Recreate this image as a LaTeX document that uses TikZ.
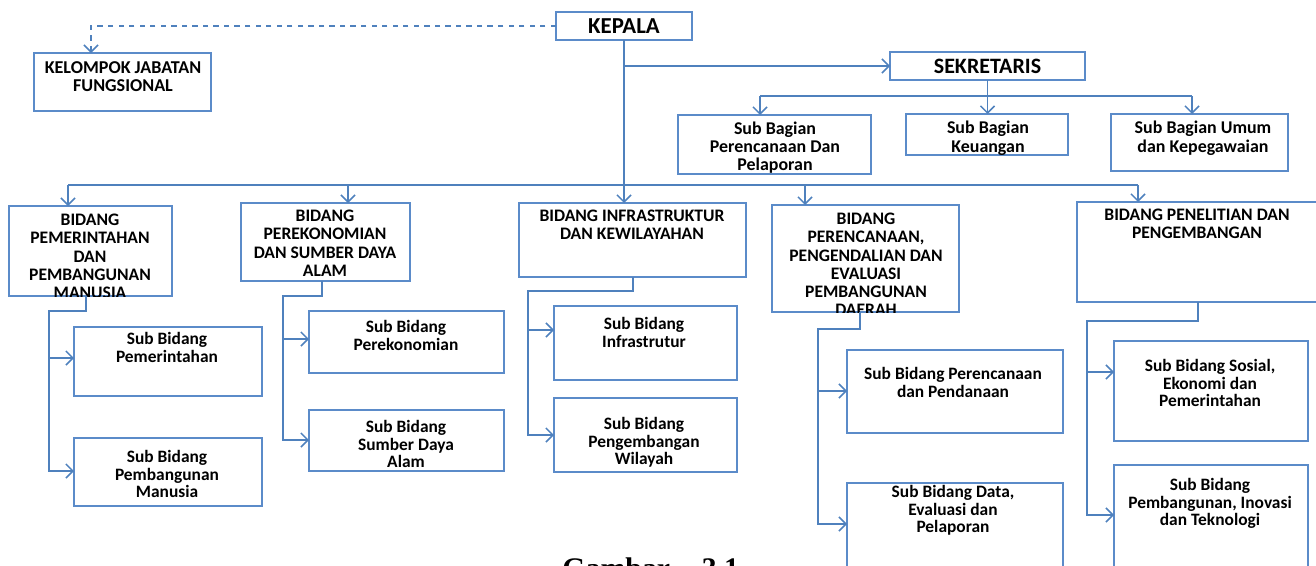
\documentclass[tikz,border=0pt]{standalone}
\usepackage{fontspec}
\setmainfont{Carlito}
\newfontfamily\capfont{Liberation Serif}
\usetikzlibrary{arrows.meta,fit}
\definecolor{lblue}{HTML}{4F81BD}
\definecolor{bblue}{HTML}{5B8BC9}
\tikzset{
  box/.style={draw=bblue, line width=0.8pt, inner sep=0pt, outer sep=0pt},
  ttl/.style={font=\bfseries\fontsize{10}{10.3}\selectfont, align=center, inner sep=0pt, anchor=north},
  subt/.style={font=\bfseries\fontsize{9.9}{10}\selectfont, align=center, inner sep=0pt, anchor=north},
  ln/.style={draw=lblue, line width=0.9pt},
  arr/.style={ln, -{Straight Barb[length=4pt,width=8pt]}},
}
\begin{document}
\begin{tikzpicture}[x=0.02cm,y=-0.02cm]
\useasboundingbox (0,0) rectangle (1316,565);
\clip (0,0) rectangle (1316,565);
% top boxes
\node[box, fit={(556,12) (692,40)}] (kepala) {};
\node[font=\bfseries\fontsize{13}{14}\selectfont, inner sep=0pt] (kepalat) at (kepala.center) {KEPALA};
\node[box, fit={(34,53) (211,111)}] (kjf) {};
\node[ttl, font=\bfseries\fontsize{10.3}{10.3}\selectfont] (kjft) at (123,61) {KELOMPOK JABATAN\\FUNGSIONAL};
\node[box, fit={(890,52) (1085,80)}] (sek) {};
\node[font=\bfseries\fontsize{12.5}{14}\selectfont, inner sep=0pt] (sekt) at (sek.center) {SEKRETARIS};
% sub bagian
\node[box, fit={(678,115) (871,174)}] (sbp) {};
\node[subt, font=\bfseries\fontsize{10.2}{10.2}\selectfont] (sbpt) at (775,122) {Sub Bagian\\Perencanaan Dan\\Pelaporan};
\node[box, fit={(906,114) (1068,155)}] (sbk) {};
\node[subt, font=\bfseries\fontsize{10.2}{10.3}\selectfont] (sbkt) at (988,121) {Sub Bagian\\Keuangan};
\node[box, fit={(1111,114) (1288,171)}] (sbu) {};
\node[subt, font=\bfseries\fontsize{10.2}{10.3}\selectfont] (sbut) at (1203,121) {Sub Bagian Umum\\dan Kepegawaian};
% bidang
\node[box, fit={(9,206) (172,296)}] (b1) {};
\begin{scope}\clip (9,206) rectangle (172,296);
\node[ttl] (b1t) at (90,214) {BIDANG\\PEMERINTAHAN\\DAN\\PEMBANGUNAN\\MANUSIA};
\end{scope}
\node[box, fit={(241,203) (410,281)}] (b2) {};
\node[ttl] (b2t) at (325,210) {BIDANG\\PEREKONOMIAN\\DAN SUMBER DAYA\\ALAM};
\node[box, fit={(519,203) (746,277)}] (b3) {};
\node[ttl] (b3t) at (632,210) {BIDANG INFRASTRUKTUR\\DAN KEWILAYAHAN};
\node[box, fit={(772,205) (959,312)}] (b4) {};
\begin{scope}\clip (772,205) rectangle (959,312);
\node[ttl] (b4t) at (866,213) {BIDANG\\PERENCANAAN,\\PENGENDALIAN DAN\\EVALUASI\\PEMBANGUNAN\\DAERAH};
\end{scope}
\node[box, fit={(1077,202) (1330,302)}] (b5) {};
\node[ttl] (b5t) at (1197,209) {BIDANG PENELITIAN DAN\\PENGEMBANGAN};
% sub bidang
\node[box, fit={(74,327) (262,396)}] (s11) {};
\node[subt] (s11t) at (167,332) {Sub Bidang\\Pemerintahan};
\node[box, fit={(74,438) (262,506)}] (s12) {};
\node[subt] (s12t) at (167,450) {Sub Bidang\\Pembangunan\\Manusia};
\node[box, fit={(309,311) (504,373)}] (s21) {};
\node[subt] (s21t) at (406,320) {Sub Bidang\\Perekonomian};
\node[box, fit={(309,410) (504,471)}] (s22) {};
\node[subt] (s22t) at (406,420) {Sub Bidang\\Sumber Daya\\Alam};
\node[box, fit={(554,306) (737,380)}] (s31) {};
\node[subt] (s31t) at (644,317) {Sub Bidang\\Infrastrutur};
\node[box, fit={(554,398) (737,472)}] (s32) {};
\node[subt] (s32t) at (644,417) {Sub Bidang\\Pengembangan\\Wilayah};
\node[box, fit={(847,350) (1063,433)}] (s41) {};
\node[subt] (s41t) at (953,367) {Sub Bidang Perencanaan\\dan Pendanaan};
\node[box, fit={(847,483) (1063,600)}] (s42) {};
\node[subt] (s42t) at (953,485) {Sub Bidang Data,\\Evaluasi dan\\Pelaporan};
\node[box, fit={(1114,341) (1308,441)}] (s51) {};
\node[subt] (s51t) at (1210,359) {Sub Bidang Sosial,\\Ekonomi dan\\Pemerintahan};
\node[box, fit={(1114,465) (1308,600)}] (s52) {};
\node[subt] (s52t) at (1210,478) {Sub Bidang\\Pembangunan, Inovasi\\dan Teknologi};
% connectors top
\coordinate (kjfa) at (91,53);
\draw[arr, dashed] (kepala.west) -| (kjfa);
\draw[arr] (kepala.south |- sek.west) -- (sek.west);
\draw[arr] (kepala.south) -- (kepala.south |- b3.north);
\coordinate (bus) at (624,185);
\coordinate (a1) at (68,206);
\coordinate (a2) at (348,203);
\coordinate (a4) at (805,205);
\coordinate (a5) at (1138,202);
\draw[ln] (a1 |- bus) -- (a5 |- bus);
\foreach \a in {a1,a2,a4,a5} \draw[arr] (\a |- bus) -- (\a);
\coordinate (sbus) at (987,96);
\coordinate (c1) at (760,115);
\coordinate (c3) at (1192,114);
\draw[ln] (c1 |- sbus) -- (c3 |- sbus);
\draw[arr] (sek.south) -- (sek.south |- sbk.north);
\draw[arr] (c1 |- sbus) -- (c1);
\draw[arr] (c3 |- sbus) -- (c3);
% bidang branches
\coordinate (d1) at (86,311); \coordinate (v1) at (49,311);
\coordinate (y11) at (0,358); \coordinate (y12) at (0,471);
\draw[arr] (b1.south -| d1) |- (v1) |- (s12.west |- y12);
\draw[arr] (v1 |- y11) -- (s11.west |- y11);
\coordinate (d2) at (322,296); \coordinate (v2) at (283,296);
\coordinate (y21) at (0,339); \coordinate (y22) at (0,440);
\draw[arr] (b2.south -| d2) |- (v2) |- (s22.west |- y22);
\draw[arr] (v2 |- y21) -- (s21.west |- y21);
\coordinate (d3) at (633,291); \coordinate (v3) at (528,291);
\coordinate (y31) at (0,330); \coordinate (y32) at (0,435);
\draw[arr] (b3.south -| d3) |- (v3) |- (s32.west |- y32);
\draw[arr] (v3 |- y31) -- (s31.west |- y31);
\coordinate (d4) at (860,329); \coordinate (v4) at (818,329);
\coordinate (y41) at (0,391); \coordinate (y42) at (0,524);
\draw[arr] (b4.south -| d4) |- (v4) |- (s42.west |- y42);
\draw[arr] (v4 |- y41) -- (s41.west |- y41);
\coordinate (d5) at (1198,321); \coordinate (v5) at (1087,321);
\coordinate (y51) at (0,372); \coordinate (y52) at (0,515);
\draw[arr] (b5.south -| d5) |- (v5) |- (s52.west |- y52);
\draw[arr] (v5 |- y51) -- (s51.west |- y51);
% caption (cut off by the lower edge, as in the reference)
\node[font=\capfont\bfseries\fontsize{17}{20}\selectfont, anchor=base west, inner sep=0pt] (cap) at (562,578) {Gambar\hspace{18pt}3.1};
\end{tikzpicture}
\end{document}
